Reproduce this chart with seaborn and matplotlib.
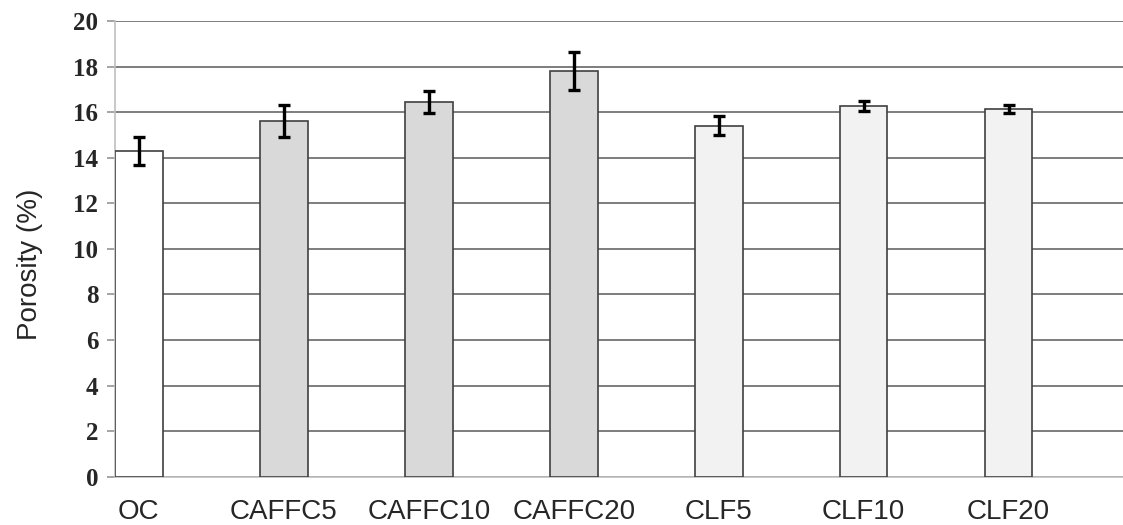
"""
plot.py - Porosity of concrete mixes, bar chart with error bars.
"""

import matplotlib
matplotlib.use("Agg")
import matplotlib.pyplot as plt
import seaborn as sns
import pandas as pd

# data
mixes = ["OC", "CAFFC5", "CAFFC10", "CAFFC20", "CLF5", "CLF10", "CLF20"]
porosity = [14.3, 15.6, 16.45, 17.8, 15.4, 16.25, 16.15]
porosity_err = [0.6, 0.7, 0.48, 0.83, 0.42, 0.22, 0.17]
bar_colors = ["#ffffff", "#d9d9d9", "#d9d9d9", "#d9d9d9", "#f2f2f2", "#f2f2f2", "#f2f2f2"]
y_ticks = [0, 2, 4, 6, 8, 10, 12, 14, 16, 18, 20]

df = pd.DataFrame({"mix": mixes, "porosity": porosity})

sns.set_style("white")
fig = plt.figure(figsize=(11.23, 5.25), dpi=100)
ax = fig.add_axes([0.1024, 0.092, 0.8976, 0.868])

BAR_W = 0.33
sns.barplot(data=df, x="mix", y="porosity", hue="mix", palette=bar_colors,
            order=mixes, hue_order=mixes, legend=False, width=BAR_W,
            edgecolor="#404040", linewidth=1.2, ax=ax, zorder=3)

ax.errorbar(range(len(mixes)), porosity, yerr=porosity_err, fmt="none",
            ecolor="black", elinewidth=2.4, capsize=4, capthick=2.4, zorder=4)

ax.set_ylim(0, 20)
ax.set_yticks(y_ticks)
ax.set_xlim(-BAR_W / 2, 6.79)
ax.yaxis.grid(True, color="#5a5a5a", linewidth=1.1)
ax.set_axisbelow(True)

for side in ["top", "right"]:
    ax.spines[side].set_visible(False)
for side in ["left", "bottom"]:
    ax.spines[side].set_color("#bfbfbf")
    ax.spines[side].set_linewidth(1.2)

ax.tick_params(axis="y", length=6, width=1.1, color="#8c8c8c", pad=6, left=True)
ax.tick_params(axis="x", length=0, pad=16)

for lab in ax.get_yticklabels():
    lab.set_fontfamily("Liberation Serif")
    lab.set_fontweight("bold")
    lab.set_fontsize(18)
for lab in ax.get_xticklabels():
    lab.set_fontfamily("Liberation Sans")
    lab.set_fontsize(20)

ax.set_xlabel("")
ax.set_ylabel("Porosity (%)", fontfamily="Liberation Sans", fontsize=20)
ax.yaxis.set_label_coords(-0.071, 0.465)

plt.savefig("out.png", dpi=100)
plt.close()
